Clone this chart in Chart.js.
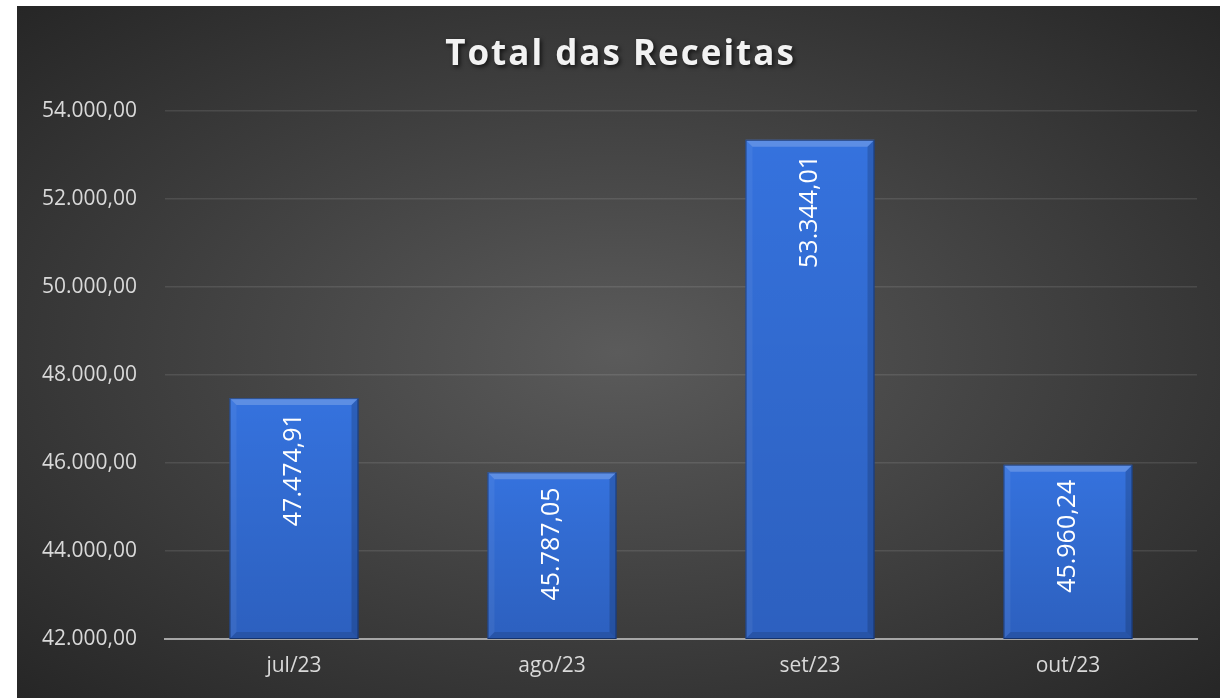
<!DOCTYPE html>
<html>
<head>
<meta charset="utf-8">
<script src="https://cdn.jsdelivr.net/npm/chart.js@4.4.0/dist/chart.umd.min.js"></script>
<style>
  html, body { margin: 0; padding: 0; background: #ffffff; }
  #wrap {
    position: absolute; left: 17px; top: 6px; width: 1203px; height: 692px;
    background: radial-gradient(ellipse farthest-corner at 50% 50%, #5b5b5b 0%, #262626 100%);
  }
</style>
</head>
<body>
<div id="wrap"><canvas id="chart"></canvas></div>
<script>
const titleText = "Total das Receitas";
const months = ["jul/23", "ago/23", "set/23", "out/23"];
const receitas = [47474.91, 45787.05, 53344.01, 45960.24];
const axisMin = 42000;
const axisMax = 54000;
const axisStep = 2000;

// 1234.5 -> "1.234,50"
const formatBR = (v) => {
  const parts = v.toFixed(2).split(".");
  const int = parts[0].replace(/\B(?=(\d{3})+(?!\d))/g, ".");
  return int + "," + parts[1];
};

const font = "'Open Sans', 'DejaVu Sans', sans-serif";

const titlePlugin = {
  id: "titleSpaced",
  afterDraw(chart) {
    const ctx = chart.ctx;
    ctx.save();
    ctx.font = "bold 35px " + font;
    ctx.letterSpacing = "2px";
    ctx.fillStyle = "#f2f2f2";
    ctx.textAlign = "center";
    ctx.textBaseline = "middle";
    ctx.shadowColor = "rgba(0,0,0,0.65)";
    ctx.shadowBlur = 4;
    ctx.shadowOffsetX = 2;
    ctx.shadowOffsetY = 2;
    ctx.fillText(titleText, chart.width / 2 + 2, 49);
    ctx.restore();
  }
};

const quad = (ctx, pts, color) => {
  ctx.beginPath();
  ctx.moveTo(pts[0][0], pts[0][1]);
  pts.slice(1).forEach((p) => ctx.lineTo(p[0], p[1]));
  ctx.closePath();
  ctx.fillStyle = color;
  ctx.fill();
};

const bevelPlugin = {
  id: "bevel",
  afterDatasetsDraw(chart) {
    const ctx = chart.ctx;
    const area = chart.chartArea;
    ctx.save();
    chart.getDatasetMeta(0).data.forEach((bar) => {
      const p = bar.getProps(["x", "y", "base", "width"], true);
      const l = p.x - p.width / 2, r = p.x + p.width / 2, t = p.y, d = 7;
      const b = Math.min(p.base, area.bottom);
      const g = ctx.createLinearGradient(0, t, 0, b);
      g.addColorStop(0, "rgba(0,0,0,0)");
      g.addColorStop(1, "rgba(0,0,30,0.16)");
      ctx.fillStyle = g;
      ctx.fillRect(l, t, r - l, b - t);
      quad(ctx, [[l, t], [r, t], [r - d, t + d], [l + d, t + d]], "rgba(255,255,255,0.2)");
      quad(ctx, [[l, t], [l + d, t + d], [l + d, b - d], [l, b]], "rgba(255,255,255,0.06)");
      quad(ctx, [[r, t], [r, b], [r - d, b - d], [r - d, t + d]], "rgba(0,0,0,0.16)");
      quad(ctx, [[l, b], [l + d, b - d], [r - d, b - d], [r, b]], "rgba(0,0,0,0.12)");
      ctx.strokeStyle = "rgba(10,30,70,0.6)";
      ctx.lineWidth = 1;
      ctx.strokeRect(l + 0.5, t + 0.5, r - l - 1, b - t - 1);
    });
    ctx.restore();
  }
};

const valueLabels = {
  id: "valueLabels",
  afterDatasetsDraw(chart) {
    const ctx = chart.ctx;
    ctx.save();
    ctx.font = "25px " + font;
    ctx.fillStyle = "#ffffff";
    ctx.textAlign = "right";
    ctx.textBaseline = "middle";
    chart.getDatasetMeta(0).data.forEach((bar, i) => {
      const p = bar.getProps(["x", "y"], true);
      ctx.save();
      ctx.translate(p.x, p.y + 15);
      ctx.rotate(-Math.PI / 2);
      ctx.fillText(formatBR(receitas[i]), 0, 0);
      ctx.restore();
    });
    ctx.restore();
  }
};

new Chart(document.getElementById("chart"), {
  type: "bar",
  data: {
    labels: months,
    datasets: [{
      data: receitas,
      backgroundColor: "#3572de",
      borderWidth: 0,
      barPercentage: 0.5,
      categoryPercentage: 1
    }]
  },
  options: {
    responsive: true,
    maintainAspectRatio: false,
    animation: false,
    layout: { padding: { top: 105, right: 23, left: 0, bottom: 0 } },
    plugins: {
      legend: { display: false },
      tooltip: { enabled: false }
    },
    scales: {
      x: {
        grid: { display: false, drawTicks: false },
        border: { color: "#a6a6a6", width: 2 },
        ticks: { color: "#d9d9d9", font: { family: font, size: 21 }, padding: 14 },
        afterFit: (scale) => { scale.height = 59; }
      },
      y: {
        min: axisMin,
        max: axisMax,
        grid: { color: "rgba(255,255,255,0.1)", lineWidth: 1.5, drawTicks: false },
        border: { display: false },
        ticks: {
          stepSize: axisStep,
          color: "#d9d9d9",
          font: { family: font, size: 21 },
          padding: 28,
          callback: (v) => formatBR(v)
        },
        afterFit: (scale) => { scale.width = 148; }
      }
    }
  },
  plugins: [bevelPlugin, valueLabels, titlePlugin]
});
</script>
</body>
</html>
